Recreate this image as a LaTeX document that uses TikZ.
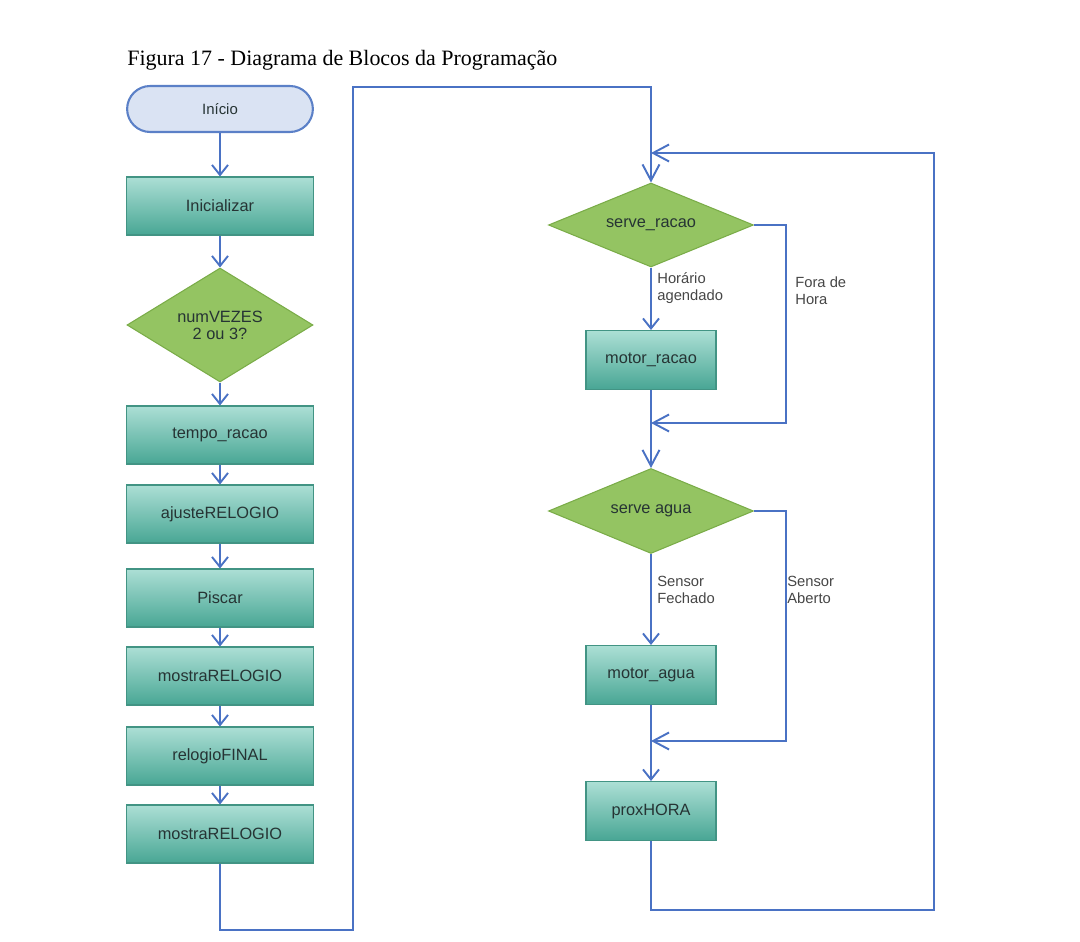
\documentclass[tikz,border=0pt]{standalone}
\usepackage{fontspec}
\setmainfont{Liberation Serif}
\setsansfont{Liberation Sans}
\usetikzlibrary{positioning}
\usetikzlibrary{shapes.misc}
\usetikzlibrary{shapes.geometric}
\usetikzlibrary{arrows.meta}
\definecolor{flowblue}{RGB}{74,114,196}
\definecolor{startfill}{RGB}{218,227,243}
\definecolor{startline}{RGB}{91,128,199}
\definecolor{boxtop}{RGB}{172,223,213}
\definecolor{boxbottom}{RGB}{72,166,148}
\definecolor{boxline}{RGB}{66,148,132}
\definecolor{decfill}{RGB}{148,196,98}
\definecolor{decline}{RGB}{122,172,72}
\definecolor{boxtext}{RGB}{38,52,52}
\definecolor{labeltext}{RGB}{70,70,70}
\tikzset{
    terminal/.style = {rounded rectangle, draw=startline, fill=startfill, line width=1.2pt,
        minimum width=3.95cm, minimum height=0.92cm, text=boxtext,
        font=\sffamily\fontsize{8.5}{9}\selectfont},
    process/.style = {rectangle, draw=boxline, top color=boxtop, bottom color=boxbottom,
        line width=0.6pt, minimum width=3.74cm, minimum height=1.16cm, text=boxtext,
        font=\sffamily\fontsize{9.3}{9.7}\selectfont},
    smallprocess/.style = {process, minimum width=2.6cm, minimum height=1.18cm},
    decision/.style = {diamond, draw=decline, fill=decfill, line width=0.6pt, inner sep=0pt,
        align=center, text=boxtext, font=\sffamily\fontsize{9.3}{9.7}\selectfont},
    flow/.style = {draw=flowblue, line width=1.1pt, -{Straight Barb[length=2mm,width=3.2mm]}},
    backflow/.style = {flow, -{Straight Barb[length=3.2mm,width=3.4mm]}},
    branchlabel/.style = {anchor=north west, align=left, inner sep=0pt, text=labeltext,
        font=\sffamily\fontsize{8.4}{9.7}\selectfont}}

\begin{document}
\begin{tikzpicture}[x=0.02cm, y=-0.02cm]
    \useasboundingbox (0,0) rectangle (1080,942);
    \node[anchor=west, inner sep=0pt, font=\fontsize{12.5}{14}\selectfont] (title) at (127,60)
        {Figura 17 - Diagrama de Blocos da Programação};

    \node[terminal] (inicio) at (220,109) {Início};
    \node[process] (init) at (220,206) {Inicializar};
    \node[decision, shape aspect=1.63, minimum width=3.72cm, minimum height=2.28cm] (numvezes) at (220,325) {numVEZES\\2 ou 3?};
    \node[process] (tempo) at (220,435) {tempo\_racao};
    \node[process] (ajuste) at (220,514) {ajusteRELOGIO};
    \node[process] (piscar) at (220,598) {Piscar};
    \node[process] (mostraA) at (220,676) {mostraRELOGIO};
    \node[process] (final) at (220,756) {relogioFINAL};
    \node[process] (mostraB) at (220,834) {mostraRELOGIO};

    \node[decision, shape aspect=2.44, minimum width=4.1cm, minimum height=1.68cm] (serveR) at (651,225) {serve\_racao};
    \node[smallprocess] (motorR) at (651,360) {motor\_racao};
    \node[decision, shape aspect=2.4, minimum width=4.1cm, minimum height=1.7cm] (serveA) at (651,511) {serve agua};
    \node[smallprocess] (motorA) at (651,675) {motor\_agua};
    \node[smallprocess] (prox) at (651,811) {proxHORA};

    \coordinate (jumpB) at (353,930);
    \coordinate (jumpT) at (353,87);
    \coordinate (mergeR) at (651,423);
    \coordinate (mergeA) at (651,741);
    \coordinate (loopB) at (934,910);
    \coordinate (loopT) at (651,153);

    \draw[flow] (inicio) -- (init);
    \draw[flow] (init) -- (numvezes);
    \draw[flow] (numvezes) -- (tempo);
    \draw[flow] (tempo) -- (ajuste);
    \draw[flow] (ajuste) -- (piscar);
    \draw[flow] (piscar) -- (mostraA);
    \draw[flow] (mostraA) -- (final);
    \draw[flow] (final) -- (mostraB);
    \draw[backflow] (mostraB.south) |- (jumpB) -- (jumpT) -| (serveR.north);

    \draw[flow] (serveR) -- (motorR);
    \draw[backflow] (serveR.east) -- ++(32,0) |- (mergeR);
    \draw[flow, -] (motorR) -- (mergeR);
    \draw[backflow] (mergeR) -- (serveA);
    \draw[flow] (serveA) -- (motorA);
    \draw[backflow] (serveA.east) -- ++(32,0) |- (mergeA);
    \draw[flow, -] (motorA) -- (mergeA);
    \draw[flow] (mergeA) -- (prox);
    \draw[backflow] (prox.south) |- (loopB) |- (loopT);

    \node[branchlabel] (horario) at (657,272) {Horário\\agendado};
    \node[branchlabel] (foraHora) at (795,276) {Fora de\\Hora};
    \node[branchlabel] (fechado) at (657,576) {Sensor\\Fechado};
    \node[branchlabel] (aberto) at (787,576) {Sensor\\Aberto};
\end{tikzpicture}
\end{document}
